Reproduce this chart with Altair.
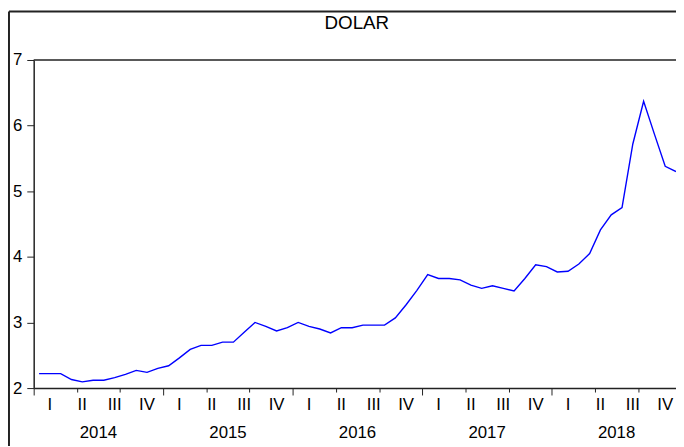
import altair as alt
import pandas as pd

# Monthly USD/TRY values, Jan 2014 .. Dec 2018
years = [2014, 2015, 2016, 2017, 2018]
quarters = ["I", "II", "III", "IV"]
dolar = [
    2.22, 2.22, 2.22, 2.13, 2.095, 2.12, 2.12, 2.16, 2.21, 2.27, 2.24, 2.30,
    2.34, 2.46, 2.59, 2.65, 2.65, 2.70, 2.70, 2.85, 3.00, 2.94, 2.87, 2.92,
    3.00, 2.94, 2.90, 2.84, 2.92, 2.92, 2.96, 2.96, 2.96, 3.07, 3.27, 3.49,
    3.73, 3.67, 3.67, 3.65, 3.57, 3.52, 3.56, 3.52, 3.48, 3.67, 3.88, 3.85,
    3.77, 3.78, 3.89, 4.05, 4.41, 4.64, 4.75, 5.72, 6.37, 5.87, 5.38, 5.30,
]
y_ticks = [2, 3, 4, 5, 6, 7]
title_text = "DOLAR"

W, H = 650, 332
FONT = "Liberation Sans"

df = pd.DataFrame({"t": [i + 0.5 for i in range(len(dolar))], "v": dolar})
qdf = pd.DataFrame({
    "pos": [12 * k + 3 * j + 1.5 for k in range(len(years)) for j in range(4)],
    "lab": [q for _ in years for q in quarters],
})
ydf = pd.DataFrame({"pos": [12 * k + 6 for k in range(len(years))],
                    "lab": [str(y) for y in years]})
one = pd.DataFrame({"a": [0]})

x_scale = alt.Scale(domain=[0, 59.5], nice=False, zero=False)
y_scale = alt.Scale(domain=[2, 7], nice=False, zero=False)

line = alt.Chart(df).mark_line(color="#0000FF", strokeWidth=1.4).encode(
    x=alt.X("t:Q", scale=x_scale, axis=alt.Axis(
        values=list(range(60)), labels=False, title=None, grid=False,
        tickSize={"condition": {"test": "datum.value % 3 === 0", "value": 7}, "value": 4},
        tickColor="#222222", tickWidth=1, domainColor="#222222", domainWidth=1.5)),
    y=alt.Y("v:Q", scale=y_scale, axis=alt.Axis(
        values=y_ticks, title=None, grid=False, tickSize=7, tickColor="#222222",
        domainColor="#222222", domainWidth=1.5, labelPadding=5,
        labelFont=FONT, labelFontSize=17, labelColor="black")),
)

qtext = alt.Chart(qdf).mark_text(font=FONT, fontSize=17, baseline="middle",
                                 align="center", color="black").encode(
    x=alt.X("pos:Q", scale=x_scale), y=alt.value(H + 17), text="lab:N")

ytext = alt.Chart(ydf).mark_text(font=FONT, fontSize=17, baseline="middle",
                                 align="center", color="black").encode(
    x=alt.X("pos:Q", scale=x_scale), y=alt.value(H + 46), text="lab:N")

ttext = alt.Chart(pd.DataFrame({"lab": [title_text]})).mark_text(
    font=FONT, fontSize=19, baseline="middle", align="center", color="black").encode(
    x=alt.value(W / 2 + 2), y=alt.value(-37), text="lab:N")

plot_top = alt.Chart(one).mark_rule(color="#222222", strokeWidth=1.5).encode(
    x=alt.value(0), x2=alt.value(W), y=alt.value(0))
outer_top = alt.Chart(one).mark_rule(color="#222222", strokeWidth=2).encode(
    x=alt.value(-25), x2=alt.value(W), y=alt.value(-49))
outer_left = alt.Chart(one).mark_rule(color="#222222", strokeWidth=2).encode(
    x=alt.value(-25), y=alt.value(-49), y2=alt.value(H + 60))

chart = alt.layer(line, qtext, ytext, ttext, plot_top, outer_top, outer_left).properties(
    width=W, height=H,
    autosize=alt.AutoSizeParams(type="none"),
    padding={"left": 26, "top": 50, "right": 0, "bottom": 56},
).configure_view(stroke=None)

chart.save("out.html", embed_options={"renderer": "svg", "actions": False})
